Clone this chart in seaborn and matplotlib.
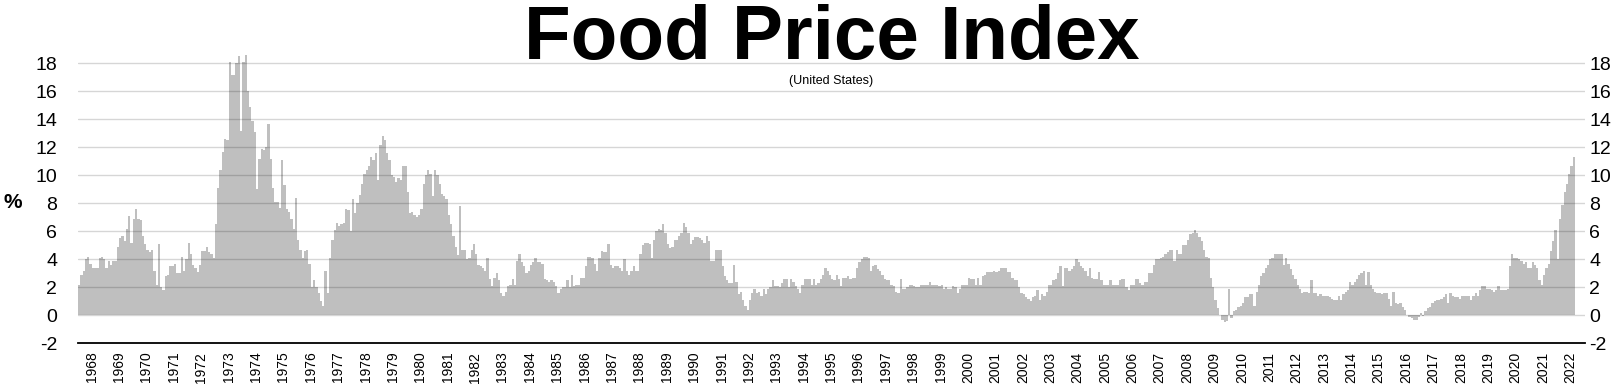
import numpy as np
import pandas as pd
import matplotlib
matplotlib.use("Agg")
import matplotlib.pyplot as plt
import seaborn as sns

# Monthly year-over-year change of the US food price index (%), Jan 1968 - Aug 2022
y1968 = [2.2, 2.9, 3.2, 4.0, 4.2, 3.7, 3.4, 3.4, 3.4, 4.1, 4.2, 4.0]
y1969 = [3.4, 3.9, 3.6, 3.9, 3.9, 4.9, 5.5, 5.7, 5.3, 6.2, 7.1, 5.2]
y1970 = [6.9, 7.6, 6.9, 6.8, 5.7, 5.1, 4.7, 4.5, 4.7, 3.2, 2.2, 5.1]
y1971 = [2.0, 1.8, 2.8, 2.9, 3.5, 3.5, 3.7, 3.0, 3.0, 4.2, 3.2, 4.0]
y1972 = [5.2, 4.4, 3.6, 3.4, 3.1, 3.6, 4.6, 4.6, 4.9, 4.5, 4.4, 4.1]
y1973 = [6.5, 9.1, 10.4, 11.7, 12.6, 12.5, 18.1, 17.2, 17.2, 18.0, 18.5, 13.2]
y1974 = [18.1, 18.6, 16.0, 14.9, 13.9, 13.1, 9.0, 11.2, 11.9, 11.8, 12.0, 13.7]
y1975 = [11.2, 9.1, 8.1, 8.1, 7.7, 11.1, 9.3, 7.6, 7.4, 6.9, 6.2, 8.4]
y1976 = [5.4, 4.7, 4.1, 4.6, 4.7, 3.7, 2.0, 2.5, 2.0, 1.6, 1.0, 0.7]
y1977 = [3.2, 1.6, 4.1, 5.4, 6.1, 6.6, 6.4, 6.5, 6.6, 7.6, 7.5, 6.0]
y1978 = [8.3, 7.3, 8.0, 8.6, 9.4, 10.1, 10.4, 10.7, 11.3, 11.1, 11.6, 9.7]
y1979 = [12.2, 12.8, 12.5, 11.6, 11.1, 10.0, 9.9, 9.5, 9.8, 9.7, 10.7, 10.7]
y1980 = [8.8, 7.3, 7.4, 7.2, 7.0, 7.2, 7.6, 9.4, 10.0, 10.4, 10.1, 8.5]
y1981 = [10.4, 10.0, 9.4, 8.7, 8.5, 8.3, 7.2, 6.5, 5.7, 4.9, 4.3, 7.8]
y1982 = [4.7, 4.7, 4.0, 4.1, 4.7, 5.1, 4.4, 3.6, 3.5, 3.4, 3.2, 4.1]
y1983 = [2.6, 2.1, 2.7, 3.0, 2.5, 1.6, 1.4, 1.7, 2.1, 2.2, 2.6, 2.2]
y1984 = [3.9, 4.4, 3.8, 3.5, 3.0, 3.2, 3.6, 3.8, 4.1, 3.8, 3.8, 3.7]
y1985 = [2.6, 2.5, 2.4, 2.5, 2.4, 2.1, 1.6, 1.9, 2.0, 2.0, 2.5, 2.0]
y1986 = [2.9, 2.1, 2.2, 2.2, 2.7, 2.7, 3.5, 4.2, 4.2, 4.1, 3.7, 3.2]
y1987 = [4.1, 4.6, 4.5, 4.5, 5.1, 3.6, 3.4, 3.5, 3.5, 3.4, 3.2, 4.0]
y1988 = [3.2, 2.9, 3.2, 3.5, 3.2, 3.2, 4.4, 5.0, 5.2, 5.2, 5.1, 4.1]
y1989 = [5.4, 6.0, 6.2, 6.1, 6.5, 5.9, 5.1, 4.8, 4.9, 5.4, 5.4, 5.7]
y1990 = [5.9, 6.6, 6.3, 5.9, 5.1, 5.4, 5.6, 5.6, 5.5, 5.4, 5.2, 5.7]
y1991 = [5.3, 3.9, 3.9, 4.7, 4.7, 4.7, 3.5, 2.8, 2.5, 2.3, 2.3, 3.6]
y1992 = [2.4, 1.5, 1.7, 1.1, 0.7, 0.4, 1.1, 1.6, 1.9, 1.6, 1.7, 1.4]
y1993 = [1.9, 1.5, 1.9, 2.0, 2.5, 2.1, 2.1, 2.0, 2.3, 2.6, 2.6, 2.0]
y1994 = [2.6, 2.4, 2.1, 1.9, 1.6, 2.2, 2.6, 2.6, 2.6, 2.2, 2.6, 2.2]
y1995 = [2.3, 2.6, 2.9, 3.4, 3.2, 2.9, 2.6, 2.5, 2.9, 2.6, 2.1, 2.7]
y1996 = [2.7, 2.8, 2.6, 2.7, 2.7, 3.4, 3.8, 4.0, 4.2, 4.2, 4.1, 3.2]
y1997 = [3.5, 3.6, 3.3, 3.2, 2.9, 2.6, 2.5, 2.5, 2.2, 2.1, 1.7, 1.6]
y1998 = [2.6, 1.9, 1.9, 2.0, 2.2, 2.2, 2.1, 2.0, 2.0, 2.2, 2.2, 2.2]
y1999 = [2.2, 2.4, 2.2, 2.2, 2.2, 2.1, 2.2, 1.9, 2.0, 1.9, 1.9, 2.1]
y2000 = [2.0, 1.6, 1.9, 2.2, 2.2, 2.2, 2.7, 2.6, 2.6, 2.2, 2.7, 2.2]
y2001 = [2.8, 2.9, 3.1, 3.1, 3.1, 3.2, 3.1, 3.2, 3.4, 3.4, 3.4, 3.1]
y2002 = [3.1, 2.7, 2.5, 2.5, 2.0, 1.6, 1.5, 1.3, 1.2, 1.0, 1.3, 1.4]
y2003 = [1.8, 1.1, 1.5, 1.4, 1.7, 2.2, 2.2, 2.5, 2.6, 3.0, 3.5, 2.1]
y2004 = [3.4, 3.4, 3.2, 3.3, 3.5, 4.0, 3.8, 3.5, 3.4, 3.2, 2.8, 3.4]
y2005 = [2.7, 2.6, 2.6, 3.1, 2.5, 2.2, 2.2, 2.2, 2.5, 2.2, 2.2, 2.2]
y2006 = [2.5, 2.6, 2.6, 2.0, 1.8, 2.2, 2.2, 2.6, 2.6, 2.3, 2.2, 2.4]
y2007 = [2.4, 3.0, 3.0, 3.6, 4.0, 4.0, 4.1, 4.2, 4.4, 4.5, 4.7, 4.7]
y2008 = [3.9, 4.7, 4.4, 4.4, 5.0, 5.0, 5.4, 5.8, 5.9, 6.1, 5.9, 5.6]
y2009 = [5.3, 4.7, 4.2, 4.1, 2.7, 2.0, 1.1, 0.5, 0.0, -0.3, -0.5, -0.4]
y2010 = [1.9, -0.2, 0.3, 0.4, 0.6, 0.7, 0.9, 1.3, 1.3, 1.5, 1.5, 0.7]
y2011 = [1.7, 2.2, 2.8, 3.0, 3.4, 3.6, 4.0, 4.1, 4.4, 4.4, 4.4, 4.4]
y2012 = [3.6, 4.1, 3.7, 3.3, 2.9, 2.6, 2.2, 1.9, 1.6, 1.7, 1.7, 1.6]
y2013 = [2.5, 1.6, 1.6, 1.4, 1.5, 1.4, 1.4, 1.4, 1.3, 1.2, 1.1, 1.1]
y2014 = [1.4, 1.1, 1.5, 1.7, 1.8, 2.4, 2.2, 2.4, 2.6, 2.9, 3.0, 3.2]
y2015 = [2.2, 3.1, 2.2, 1.9, 1.7, 1.6, 1.6, 1.5, 1.6, 1.6, 1.2, 0.7]
y2016 = [1.7, 0.9, 0.8, 0.9, 0.6, 0.4, 0.0, -0.1, -0.2, -0.3, -0.3, -0.1]
y2017 = [0.2, -0.05, 0.3, 0.5, 0.6, 0.9, 1.0, 1.1, 1.1, 1.2, 1.3, 1.5]
y2018 = [0.9, 1.6, 1.4, 1.3, 1.3, 1.2, 1.4, 1.4, 1.4, 1.4, 1.1, 1.4]
y2019 = [1.6, 1.4, 1.8, 2.1, 2.1, 1.9, 1.9, 1.8, 1.7, 1.8, 2.1, 1.8]
y2020 = [1.8, 1.8, 1.9, 3.5, 4.4, 4.1, 4.1, 4.0, 3.9, 3.7, 3.8, 3.4]
y2021 = [3.4, 3.8, 3.6, 3.4, 2.5, 2.2, 2.9, 3.4, 3.7, 4.6, 5.3, 6.1]
y2022 = [4.0, 6.9, 7.9, 8.8, 9.4, 10.1, 10.7, 11.3]

year_labels = [str(y) for y in range(1968, 2023)]
y_ticks = list(range(-2, 19, 2))

series = [y1968, y1969, y1970, y1971, y1972, y1973, y1974, y1975, y1976, y1977,
          y1978, y1979, y1980, y1981, y1982, y1983, y1984, y1985, y1986, y1987,
          y1988, y1989, y1990, y1991, y1992, y1993, y1994, y1995, y1996, y1997,
          y1998, y1999, y2000, y2001, y2002, y2003, y2004, y2005, y2006, y2007,
          y2008, y2009, y2010, y2011, y2012, y2013, y2014, y2015, y2016, y2017,
          y2018, y2019, y2020, y2021, y2022]
values = [v for yr in series for v in yr]
df = pd.DataFrame({"month": np.arange(len(values)), "change": values})

sns.set_style("white")
plt.rcParams["font.family"] = ["Liberation Sans", "DejaVu Sans"]
plt.rcParams["text.color"] = "black"
plt.rcParams["xtick.color"] = "black"
plt.rcParams["ytick.color"] = "black"
plt.rcParams["axes.labelcolor"] = "black"

W, H = 1620, 388
fig = plt.figure(figsize=(W / 100, H / 100), dpi=100)
x0, x1 = 78, 1585
ytop, ybot = 49.3, 343.3
ax = fig.add_axes([x0 / W, (H - ybot) / H, (x1 - x0) / W, (ybot - ytop) / H])

sns.barplot(data=df, x="month", y="change", color="#bfbfbf", saturation=1,
            width=1.0, linewidth=0, native_scale=True, ax=ax, zorder=1)

px_per_bar = 1497 / len(values)
ax.set_xlim(-0.5, -0.5 + (x1 - x0) / px_per_bar)
ax.set_ylim(-2, 19)
ax.set_yticks(y_ticks)
ax.set_yticklabels([str(t) for t in y_ticks])
ax.set_xlabel("")
ax.set_ylabel("")

for t in y_ticks[1:]:
    ax.axhline(t, color="black", alpha=0.16, lw=1.0, zorder=3)

for s in ["top", "right", "left"]:
    ax.spines[s].set_visible(False)
ax.spines["bottom"].set_color("black")
ax.spines["bottom"].set_linewidth(1.3)

ax.tick_params(axis="y", length=0, pad=15, labelsize=14, labelcolor="black")

ax2 = ax.twinx()
ax2.set_ylim(ax.get_ylim())
ax2.set_yticks(y_ticks)
ax2.set_yticklabels([str(t) for t in y_ticks])
ax2.tick_params(axis="y", length=0, pad=3, labelsize=14, labelcolor="black")
for s in ["top", "right", "left", "bottom"]:
    ax2.spines[s].set_visible(False)

tick_pos = [12 * i + 5.5 for i in range(len(year_labels))]
ax.set_xticks(tick_pos)
ax.set_xticklabels(year_labels, rotation=90, fontsize=10, color="black")
ax.tick_params(axis="x", length=0, pad=6)

fig.text(13 / W, 1 - 203 / H, "%", fontsize=15, fontweight="bold",
         ha="center", va="center", color="black")
fig.text(832 / W, 1 - 58.5 / H, "Food Price Index", fontsize=55,
         fontweight="bold", ha="center", va="baseline", color="black")
fig.text(831 / W, 1 - 84 / H, "(United States)", fontsize=9,
         ha="center", va="baseline", color="black")

fig.savefig("out.png", dpi=100)
